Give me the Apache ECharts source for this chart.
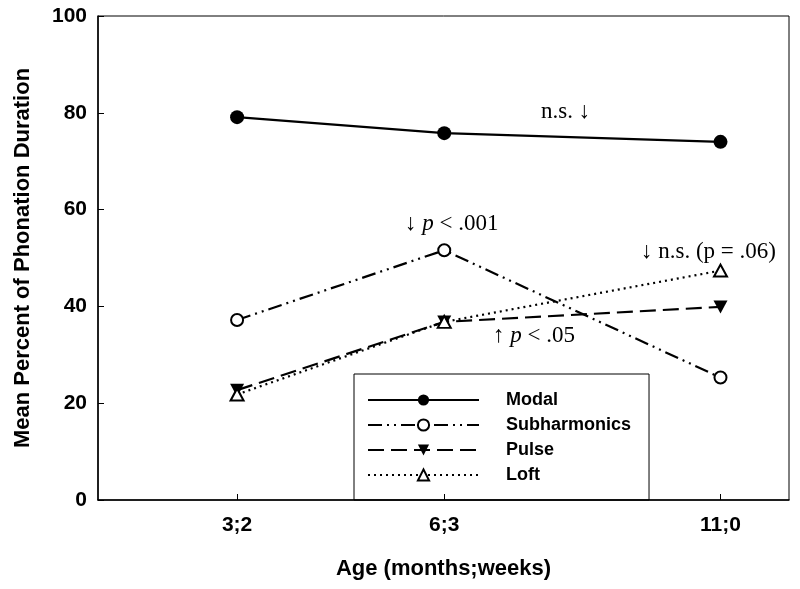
<!DOCTYPE html>
<html>
<head>
<meta charset="utf-8">
<script src="https://cdn.jsdelivr.net/npm/echarts@6/dist/echarts.min.js"></script>
<style>
  html, body { margin: 0; padding: 0; background: #fff; }
  #chart { width: 800px; height: 589px; }
</style>
</head>
<body>
<div id="chart"></div>
<script>
// age in weeks (months;weeks)
const ageWeeks = [15, 29, 47.67]
const ageLabels = ['3;2', '6;3', '11;0']
const yTicks = [0, 20, 40, 60, 80, 100]

const modal = [79.1, 75.8, 74.0]
const subharmonics = [37.2, 51.6, 25.3]
const pulse = [22.7, 36.8, 39.9]
const loft = [21.8, 36.8, 47.4]

function pairs(vals) {
  return vals.map((v, i) => [ageWeeks[i], v])
}

function labelFor(v) {
  let best = 0
  ageWeeks.forEach((w, i) => { if (Math.abs(w - v) < Math.abs(ageWeeks[best] - v)) best = i })
  return ageLabels[best]
}

const chart = echarts.init(document.getElementById('chart'))

const sans = 'Liberation Sans, Arial, sans-serif'
const serif = 'Liberation Serif, Times New Roman, serif'
const downTri = 'path://M0,0L10,0L5,9Z'

const annText = { fontFamily: serif, fontSize: 23, color: '#000' }
const annRich = {
  a: { fontFamily: serif, fontSize: 23, color: '#000' },
  i: { fontFamily: serif, fontSize: 23, fontStyle: 'italic', color: '#000' }
}

const option = {
  animation: false,
  backgroundColor: '#fff',
  grid: {
    left: 98, right: 11, top: 16, bottom: 89,
    show: true, borderColor: '#000', borderWidth: 1
  },
  legend: {
    orient: 'vertical',
    left: 354,
    top: 374,
    borderColor: '#000',
    borderWidth: 1,
    padding: [17, 18, 16, 13],
    itemWidth: 111,
    itemHeight: 14,
    itemGap: 7,
    textStyle: { fontFamily: sans, fontWeight: 'bold', fontSize: 18, color: '#000', padding: [0, 0, 0, 22] },
    data: ['Modal', 'Subharmonics', 'Pulse', 'Loft']
  },
  xAxis: {
    type: 'value',
    min: 5.6,
    max: 52.3,
    name: 'Age (months;weeks)',
    nameLocation: 'middle',
    nameGap: 58,
    nameTextStyle: { fontFamily: sans, fontWeight: 'bold', fontSize: 22, color: '#000' },
    axisLine: { lineStyle: { color: '#000', width: 1.5 } },
    axisTick: { show: true, inside: true, length: 6, customValues: ageWeeks, lineStyle: { color: '#000' } },
    axisLabel: {
      customValues: ageWeeks,
      formatter: v => labelFor(v),
      margin: 15,
      fontFamily: sans, fontWeight: 'bold', fontSize: 21, color: '#000'
    },
    splitLine: { show: false }
  },
  yAxis: {
    type: 'value',
    min: 0,
    max: 100,
    interval: 20,
    name: 'Mean Percent of Phonation Duration',
    nameLocation: 'middle',
    nameGap: 64,
    nameTextStyle: { fontFamily: sans, fontWeight: 'bold', fontSize: 22, color: '#000' },
    axisLine: { show: true, lineStyle: { color: '#000', width: 1.5 } },
    axisTick: { show: true, inside: true, length: 6, lineStyle: { color: '#000' } },
    axisLabel: {
      margin: 11,
      fontFamily: sans, fontWeight: 'bold', fontSize: 21, color: '#000',
      formatter: v => yTicks.includes(v) ? String(v) : ''
    },
    splitLine: { show: false }
  },
  series: [
    {
      name: 'Modal', type: 'line', data: pairs(modal),
      symbol: 'circle', symbolSize: 14,
      lineStyle: { color: '#000', width: 2.2 },
      itemStyle: { color: '#000', borderColor: '#000', borderWidth: 0 }
    },
    {
      name: 'Subharmonics', type: 'line', data: pairs(subharmonics),
      symbol: 'circle', symbolSize: 12,
      lineStyle: { color: '#000', width: 2.2, type: [14, 5, 2, 5, 2, 5] },
      itemStyle: { color: '#fff', borderColor: '#000', borderWidth: 2 }
    },
    {
      name: 'Pulse', type: 'line', data: pairs(pulse),
      symbol: downTri, symbolSize: [14, 13],
      lineStyle: { color: '#000', width: 2.2, type: [16, 7] },
      itemStyle: { color: '#000', borderColor: '#000', borderWidth: 0 }
    },
    {
      name: 'Loft', type: 'line', data: pairs(loft),
      symbol: 'triangle', symbolSize: [13, 12],
      lineStyle: { color: '#000', width: 2.2, type: [2, 4] },
      itemStyle: { color: '#fff', borderColor: '#000', borderWidth: 2 }
    }
  ],
  graphic: [
    { type: 'text', x: 541, y: 112, style: Object.assign({ text: 'n.s. ↓', verticalAlign: 'middle' }, annText) },
    { type: 'text', x: 405, y: 224, style: { text: '{a|↓ }{i|p}{a| < .001}', rich: annRich, verticalAlign: 'middle' } },
    { type: 'text', x: 641, y: 252, style: { text: '{a|↓ n.s. (p = .06)}', rich: annRich, verticalAlign: 'middle' } },
    { type: 'text', x: 493, y: 336, style: { text: '{a|↑ }{i|p}{a| < .05}', rich: annRich, verticalAlign: 'middle' } }
  ]
}

chart.setOption(option)
</script>
</body>
</html>
